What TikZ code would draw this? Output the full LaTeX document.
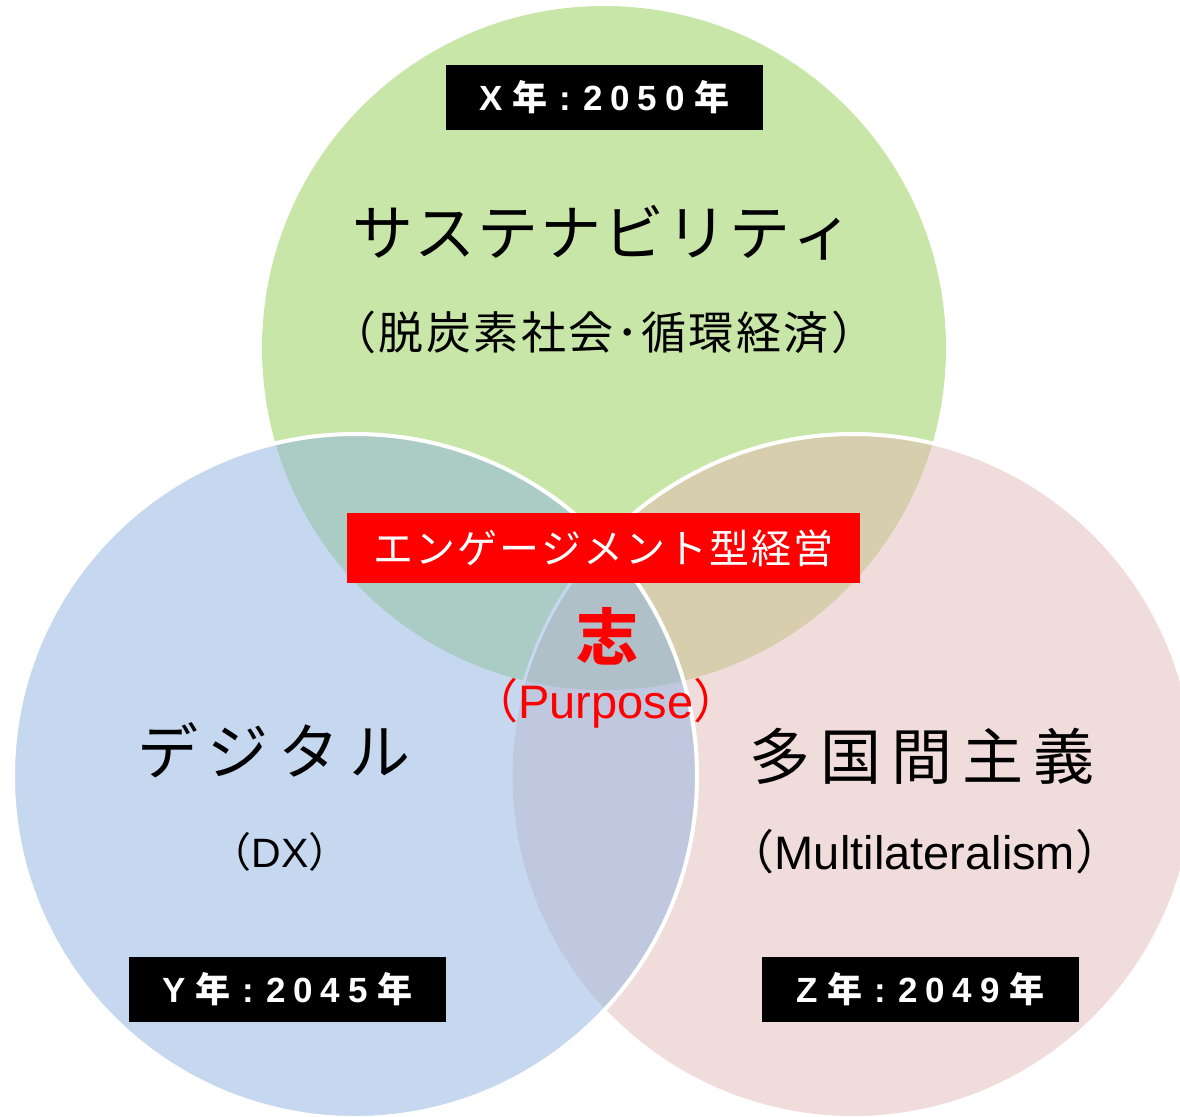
\documentclass[tikz,border=0pt]{standalone}
\usepackage{fontspec}
\setmainfont{Liberation Sans}
\newfontfamily\jp{Noto Sans CJK JP}
\makeatletter
\newcommand\spacedtext[2]{\def\st@k{\kern#1\relax}\st@first#2\relax}
\def\st@first#1{#1\st@loop}
\def\st@loop#1{\ifx\relax#1\else\st@k#1\expandafter\st@loop\fi}
\makeatother
\newcommand\yeartext[5]{#1\kern10pt{\jp 年}\kern12pt:\kern12pt #2\kern8pt #3\kern8pt #4\kern8pt #5\kern10pt{\jp 年}}
\definecolor{gc}{RGB}{200,230,167}
\definecolor{bc}{RGB}{197,216,240}
\definecolor{pc}{RGB}{241,220,220}
\definecolor{gbc}{RGB}{170,204,196}
\definecolor{gpc}{RGB}{214,206,172}
\definecolor{bpc}{RGB}{191,200,222}
\definecolor{gbpc}{RGB}{175,192,200}
\definecolor{pred}{RGB}{255,0,0}
\tikzset{
  edge/.style={draw=white, line width=4pt},
  yearbox/.style={fill=black, text=white, minimum width=317pt, minimum height=65pt, inner sep=0pt,
    font=\bfseries\fontsize{35}{42}\selectfont},
  redbox/.style={fill=pred, text=white, minimum width=513pt, minimum height=70pt, inner sep=0pt,
    font=\jp\fontsize{40}{48}\selectfont},
  bigjp/.style={inner sep=0pt, text=black, font=\jp\fontsize{61}{72}\selectfont},
  subjp/.style={inner sep=0pt, text=black, font=\jp\fontsize{45}{54}\selectfont},
  sublat/.style={inner sep=0pt, text=black, font=\fontsize{47}{56}\selectfont},
}
\begin{document}
\begin{tikzpicture}[x=1pt, y=-1pt]
\useasboundingbox (0,0) rectangle (1180,1116);
\clip (0,0) rectangle (1180,1116);
\coordinate (G) at (604,348);
\coordinate (B) at (355,776);
\coordinate (P) at (853,776);
\def\R{342}
% green
\fill[gc] (G) circle (\R);
% pink
\fill[pc] (P) circle (\R);
\begin{scope}
  \clip (G) circle (\R);
  \fill[gpc] (P) circle (\R);
\end{scope}
\draw[edge] (P) circle (\R);
% blue
\fill[bc] (B) circle (\R);
\begin{scope}
  \clip (G) circle (\R);
  \fill[gbc] (B) circle (\R);
\end{scope}
\begin{scope}
  \clip (P) circle (\R);
  \fill[bpc] (B) circle (\R);
\end{scope}
\begin{scope}
  \clip (G) circle (\R);
  \clip (P) circle (\R);
  \fill[gbpc] (B) circle (\R);
\end{scope}
\begin{scope}
  \clip (B) circle (\R);
  \draw[bc, line width=3pt] (P) circle (\R);
\end{scope}
\draw[edge] (B) circle (\R);

% boxes
\node[yearbox] (xbox) at (604.5,97.5) {\yeartext{X}{2}{0}{5}{0}};
\node[yearbox] (ybox) at (287.5,989.5) {\yeartext{Y}{2}{0}{4}{5}};
\node[yearbox] (zbox) at (920.5,989.5) {\yeartext{Z}{2}{0}{4}{9}};
\node[redbox] (eng) at (603,548) {\spacedtext{2pt}{エンゲージメント型経営}};

% titles
\node[bigjp] (sus) at (603,233) {\spacedtext{2pt}{サステナビリティ}};
\node[subjp] (sussub) at (604,332) {\spacedtext{2.5pt}{（脱炭素社会･循環経済）}};
\node[bigjp] (dig) at (274,750) {\spacedtext{10pt}{デジタル}};
\node[sublat, font=\fontsize{41}{48}\selectfont] (dx) at (280,852) {{\jp （}DX{\jp ）}};
\node[bigjp] (multi) at (922,756) {\spacedtext{10pt}{多国間主義}};
\node[sublat] (multisub) at (925,852) {{\jp （}Multilateralism{\jp ）}};
% center
\node[inner sep=0pt, text=pred, font=\jp\bfseries\fontsize{62}{72}\selectfont] (kokoro) at (607,636) {志};
\node[sublat, text=pred, font=\fontsize{47}{56}\selectfont] (purpose) at (606,703) {{\jp （}Purpose{\jp ）}};
\end{tikzpicture}
\end{document}
